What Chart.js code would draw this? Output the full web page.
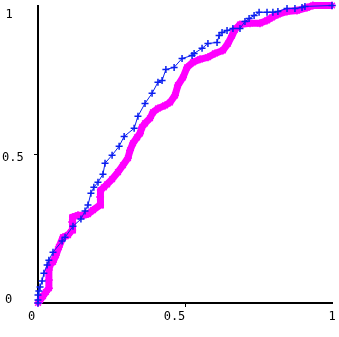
<!DOCTYPE html>
<html>
<head>
<meta charset="utf-8">
<script src="https://cdn.jsdelivr.net/npm/chart.js@4"></script>
<style>html,body{margin:0;padding:0;background:#fff}</style>
</head>
<body>
<canvas id="c" width="339" height="337"></canvas>
<script>
// blue curve (+ markers)
const blueX = [0, 0, 0, 0.003, 0.007, 0.014, 0.02, 0.031, 0.037, 0.051, 0.082, 0.092, 0.119, 0.146, 0.16, 0.17,
  0.18, 0.19, 0.204, 0.221, 0.228, 0.252, 0.276, 0.293, 0.327, 0.34, 0.364, 0.388, 0.408, 0.422, 0.435, 0.463,
  0.49, 0.524, 0.531, 0.558, 0.578, 0.609, 0.616, 0.626, 0.643, 0.663, 0.687, 0.704, 0.718, 0.735, 0.752, 0.779,
  0.799, 0.816, 0.847, 0.874, 0.898, 0.908, 1.0];
const blueY = [0, 0.01, 0.027, 0.04, 0.054, 0.074, 0.10, 0.128, 0.144, 0.171, 0.208, 0.221, 0.258, 0.282, 0.309, 0.329,
  0.369, 0.389, 0.406, 0.433, 0.47, 0.497, 0.527, 0.56, 0.587, 0.628, 0.671, 0.705, 0.742, 0.748, 0.785, 0.792,
  0.822, 0.832, 0.839, 0.856, 0.872, 0.876, 0.899, 0.909, 0.916, 0.923, 0.923, 0.946, 0.956, 0.966, 0.977, 0.977,
  0.977, 0.98, 0.99, 0.99, 0.993, 0.997, 1.0];

// magenta curve (* markers)
const pinkX = [0, 0.007, 0.017, 0.027, 0.037, 0.037, 0.037, 0.041, 0.051, 0.061, 0.071, 0.085, 0.102, 0.116, 0.116,
  0.119, 0.136, 0.156, 0.17, 0.187, 0.211, 0.211, 0.214, 0.224, 0.235, 0.252, 0.272, 0.289, 0.306, 0.313, 0.323,
  0.337, 0.347, 0.354, 0.364, 0.381, 0.391, 0.408, 0.432, 0.449, 0.466, 0.476, 0.493, 0.507, 0.527, 0.551, 0.578,
  0.602, 0.629, 0.646, 0.66, 0.67, 0.687, 0.721, 0.755, 0.779, 0.796, 0.816, 0.847, 0.881, 0.915, 0.935, 1.0];
const pinkY = [0, 0.01, 0.023, 0.037, 0.05, 0.077, 0.111, 0.128, 0.138, 0.161, 0.188, 0.221, 0.228, 0.245, 0.272,
  0.289, 0.295, 0.295, 0.299, 0.312, 0.329, 0.356, 0.379, 0.389, 0.399, 0.416, 0.44, 0.463, 0.487, 0.513, 0.537,
  0.557, 0.57, 0.591, 0.604, 0.621, 0.641, 0.654, 0.664, 0.674, 0.698, 0.732, 0.758, 0.792, 0.809, 0.819, 0.826,
  0.839, 0.849, 0.872, 0.899, 0.919, 0.936, 0.94, 0.94, 0.95, 0.96, 0.97, 0.98, 0.983, 0.993, 1.0, 1.0];

const tickValues = [0, 0.5, 1];
const xTickLabels = ['0', '0.5', '1'];
const yTickLabels = ['0', '0.5', '1'];

const toPoints = (xs, ys) => xs.map((x, i) => ({ x: x, y: ys[i] }));

// draws the tick labels where the original puts them
const tickLabelPlugin = {
  id: 'tickLabels',
  afterDraw(chart) {
    const { ctx, scales: { x, y } } = chart;
    ctx.save();
    ctx.fillStyle = '#000';
    ctx.font = '12px "DejaVu Sans Mono", monospace';
    ctx.textBaseline = 'alphabetic';
    const yLeft = [5, 2, 5.5];
    const yShift = [0, 7, 12];
    ctx.textAlign = 'left';
    tickValues.forEach((v, i) => {
      ctx.fillText(yTickLabels[i], yLeft[i], y.getPixelForValue(v) + yShift[i]);
    });
    const xShift = [-6.5, -10.5, 0];
    ctx.textAlign = 'center';
    tickValues.forEach((v, i) => {
      ctx.fillText(xTickLabels[i], x.getPixelForValue(v) + xShift[i], x.top + 16.5);
    });
    ctx.restore();
  }
};

const onlyHalf = (c) => (c.tick && c.tick.value === 0.5 ? '#000' : 'rgba(0,0,0,0)');

const axis = (size, prop) => ({
  type: 'linear',
  min: 0,
  max: 1,
  ticks: { display: false, stepSize: 0.5 },
  grid: { drawOnChartArea: false, drawTicks: true, tickLength: 4, color: onlyHalf, lineWidth: 1 },
  border: { display: true, color: '#000', width: 2 },
  afterFit: (scale) => { scale[prop] = size; }
});

new Chart(document.getElementById('c'), {
  type: 'scatter',
  data: {
    datasets: [
      {
        data: toPoints(blueX, blueY),
        showLine: true,
        borderColor: '#0a1ef0',
        borderWidth: 1,
        pointStyle: 'cross',
        pointRadius: 3.5,
        pointBorderWidth: 1.5,
        pointBorderColor: '#0a1ef0',
        tension: 0,
        clip: false
      },
      {
        data: toPoints(pinkX, pinkY),
        showLine: true,
        borderColor: '#ff00ff',
        borderWidth: 7,
        pointStyle: 'star',
        pointRadius: 4,
        pointBorderWidth: 1.5,
        pointBorderColor: '#ff00ff',
        tension: 0,
        clip: false
      }
    ]
  },
  options: {
    responsive: false,
    animation: false,
    devicePixelRatio: 1,
    layout: { padding: { top: 5, right: 7, left: 0, bottom: 0 } },
    plugins: { legend: { display: false }, tooltip: { enabled: false } },
    scales: {
      x: axis(34, 'height'),
      y: axis(38, 'width')
    }
  },
  plugins: [tickLabelPlugin]
});
</script>
</body>
</html>
